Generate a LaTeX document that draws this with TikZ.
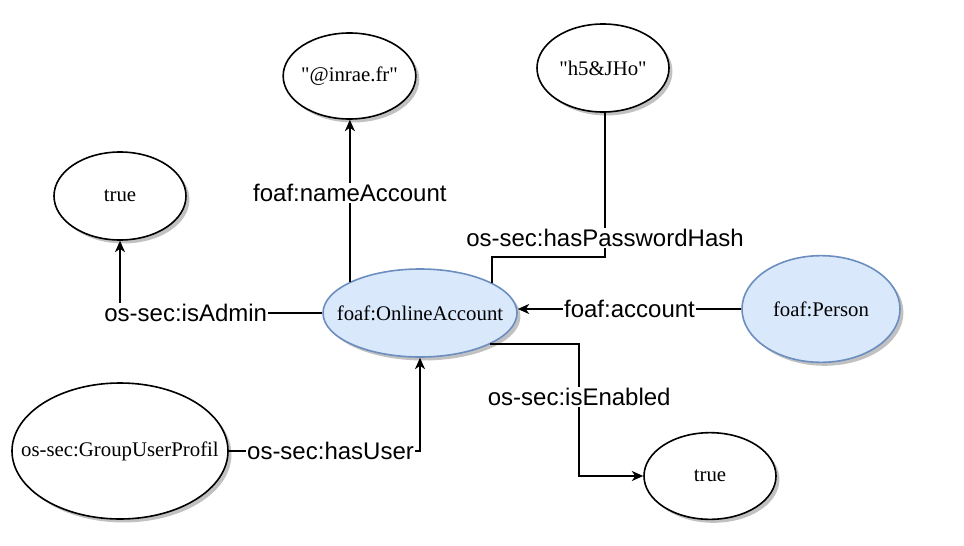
\documentclass[tikz,border=0pt]{standalone}
\usepackage{fontspec}
\setmainfont{Liberation Serif}
\setsansfont{Liberation Sans}
\usetikzlibrary{shapes.geometric,arrows.meta,calc,shadows}
\definecolor{bluefill}{HTML}{DAE8FC}
\definecolor{bluedraw}{HTML}{6C8EBF}
\tikzset{
  ell/.style={ellipse, draw=black, line width=1.2pt, fill=white, inner sep=0pt,
    drop shadow={shadow xshift=2.6pt, shadow yshift=-2.6pt, fill=black!30, opacity=0.8}},
  blueell/.style={ell, fill=bluefill, draw=bluedraw},
  etext/.style={font=\fontsize{15.6}{18}\selectfont, inner sep=0pt},
  lbl/.style={fill=white, inner sep=1pt, font=\sffamily\fontsize{18}{21}\selectfont},
  conn/.style={line width=1.2pt, draw=black},
  arr/.style={conn, -{Stealth[length=8.5pt,width=7.5pt,inset=2.5pt]}}
}
\begin{document}
\begin{tikzpicture}[x=0.75pt,y=-0.75pt]
\path[use as bounding box] (0,0) rectangle (964,546);
% nodes
\node[ell, minimum width=99.5pt, minimum height=64.5pt,
  label={[etext]center:\textquotedbl @inrae.fr\textquotedbl}] (inrae) at (349.5,76) {};
\node[ell, minimum width=99pt, minimum height=66pt,
  label={[etext]center:\textquotedbl h5\&JHo\textquotedbl}] (h5) at (603,68) {};
\node[ell, minimum width=99pt, minimum height=66pt,
  label={[etext]center:true}] (trueA) at (120,196) {};
\node[blueell, minimum width=145.5pt, minimum height=66pt,
  label={[etext]center:foaf:OnlineAccount}] (oa) at (420,313) {};
\node[blueell, minimum width=118.5pt, minimum height=80pt,
  label={[etext]center:foaf:Person}] (person) at (821,309) {};
\node[ell, minimum width=162pt, minimum height=102pt,
  label={[etext]center:os-sec:GroupUserProfil}] (gup) at (120,451) {};
\node[ell, minimum width=99pt, minimum height=65pt,
  label={[etext]center:true}] (trueB) at (710,476) {};
% connectors
\draw[arr] (oa.156.8) -- node[lbl,pos=0.55]{foaf:nameAccount} (oa.156.8 |- inrae.south);
\draw[arr] (oa.west) -- node[lbl,pos=0.675]{os-sec:isAdmin} (oa.west -| trueA.south) -- (trueA.south);
\draw[conn] (oa.23.8) |- ($(h5.south)+(2,144)$) -- node[lbl,pos=0.13]{os-sec:hasPasswordHash} ($(h5.south)+(2,0)$);
\draw[arr] (person.west) -- node[lbl]{foaf:account} (person.west -| oa.east);
\draw[arr] (oa.-24.2) -| node[lbl,pos=0.7]{os-sec:isEnabled} ($(trueB.west)+(-64,0)$) -- (trueB.west);
\draw[arr] (gup.east) -| node[lbl,pos=0.266]{os-sec:hasUser} (oa.south);
\end{tikzpicture}
\end{document}
